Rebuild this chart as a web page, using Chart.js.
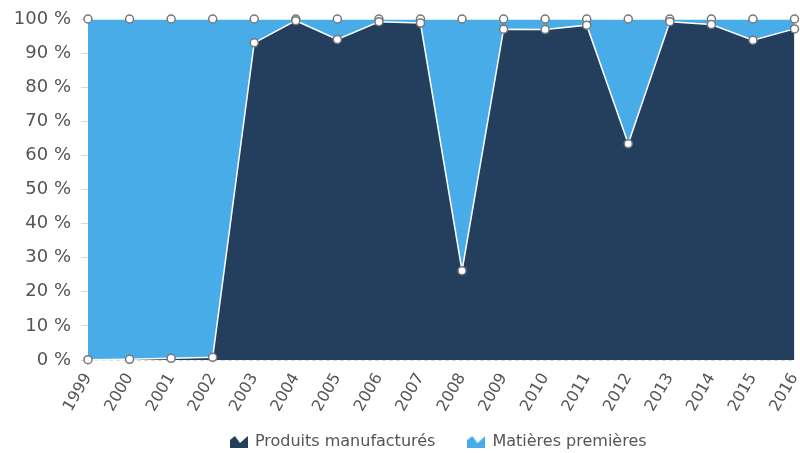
<!DOCTYPE html>
<html>
<head>
<meta charset="utf-8">
<script src="https://cdn.jsdelivr.net/npm/chart.js@4/dist/chart.umd.min.js"></script>
<style>
  html, body { margin: 0; padding: 0; background: #fff; overflow: hidden; }
  #wrap { width: 800px; height: 460px; }
</style>
</head>
<body>
<div id="wrap"><canvas id="chart"></canvas></div>
<script>
// Data
const years = ['1999', '2000', '2001', '2002', '2003', '2004', '2005', '2006', '2007',
               '2008', '2009', '2010', '2011', '2012', '2013', '2014', '2015', '2016'];
const produits = [0.1, 0.2, 0.5, 0.8, 93, 99.5, 94, 99.2, 98.8,
                  26.2, 97, 96.9, 98.2, 63.4, 99.2, 98.4, 93.8, 97.1];
const matieres = produits.map(v => +(100 - v).toFixed(1));
const yTicks = [0, 10, 20, 30, 40, 50, 60, 70, 80, 90, 100];

const darkBlue = '#243e5e';
const lightBlue = '#48ace9';

// Legend icon shaped like a small area chart
function areaIcon(color) {
    const c = document.createElement('canvas');
    c.width = 18; c.height = 12;
    const g = c.getContext('2d');
    g.fillStyle = color;
    g.beginPath();
    g.moveTo(0, 12);
    g.lineTo(0, 4);
    g.lineTo(5, 0);
    g.lineTo(10, 7);
    g.lineTo(18, 0);
    g.lineTo(18, 12);
    g.closePath();
    g.fill();
    return c;
}

// center the legend under the plot area, and don't clip the rotated year labels
const layoutTweaks = {
    id: 'layoutTweaks',
    afterLayout(chart) {
        const area = chart.chartArea;
        const dx = (area.left + area.right) / 2 - chart.width / 2;
        chart.legend.left += dx;
        chart.legend.right += dx;
        chart.scales.x.bottom = chart.height;
    }
};

const ctx = document.getElementById('chart').getContext('2d');
new Chart(ctx, {
    type: 'line',
    data: {
        labels: years,
        datasets: [
            {
                label: 'Produits manufacturés',
                data: produits,
                backgroundColor: darkBlue,
                borderColor: '#ffffff',
                borderWidth: 1.5,
                fill: 'origin',
                tension: 0,
                pointRadius: 4,
                pointBackgroundColor: '#ffffff',
                pointBorderColor: '#777777',
                pointBorderWidth: 1.5,
                pointStyle: 'circle',
                clip: false
            },
            {
                label: 'Matières premières',
                data: matieres,
                backgroundColor: lightBlue,
                borderColor: '#ffffff',
                borderWidth: 1.5,
                fill: '-1',
                tension: 0,
                pointRadius: 4,
                pointBackgroundColor: '#ffffff',
                pointBorderColor: '#777777',
                pointBorderWidth: 1.5,
                pointStyle: 'circle',
                clip: false
            }
        ]
    },
    plugins: [layoutTweaks],
    options: {
        responsive: true,
        maintainAspectRatio: false,
        animation: false,
        layout: { padding: { top: 19, right: 5, left: 0, bottom: 0 } },
        plugins: {
            tooltip: { enabled: false },
            legend: {
                position: 'bottom',
                labels: {
                    color: '#555555',
                    font: { family: 'DejaVu Sans', size: 16 },
                    boxWidth: 18,
                    padding: 33,
                    usePointStyle: true,
                    generateLabels: (chart) => chart.data.datasets.map((ds, i) => ({
                        text: ds.label,
                        pointStyle: areaIcon(ds.backgroundColor),
                        fillStyle: ds.backgroundColor,
                        strokeStyle: ds.backgroundColor,
                        lineWidth: 0,
                        fontColor: '#555555',
                        hidden: false,
                        datasetIndex: i
                    }))
                }
            }
        },
        scales: {
            x: {
                stacked: true,
                offset: false,
                grid: { display: false },
                border: { display: false },
                ticks: {
                    color: '#555555',
                    font: { family: 'DejaVu Sans', size: 16 },
                    maxRotation: 60,
                    minRotation: 60,
                    autoSkip: false,
                    padding: 2
                },
                afterFit: (scale) => {
                    scale.height = 41;
                    scale.paddingLeft = 0;
                    scale.paddingRight = 0;
                }
            },
            y: {
                stacked: true,
                min: 0,
                max: 100,
                afterBuildTicks: (scale) => { scale.ticks = yTicks.map(v => ({ value: v })); },
                grid: {
                    color: '#d8d8d8',
                    tickLength: 7,
                    drawOnChartArea: true
                },
                border: { display: false, dash: [4, 3] },
                ticks: {
                    color: '#555555',
                    font: { family: 'DejaVu Sans', size: 18 },
                    padding: 10,
                    callback: (v) => v + ' %'
                },
                afterFit: (scale) => {
                    scale.width = 88;
                    scale.paddingTop = 0;
                    scale.paddingBottom = 0;
                }
            }
        }
    }
});
</script>
</body>
</html>
